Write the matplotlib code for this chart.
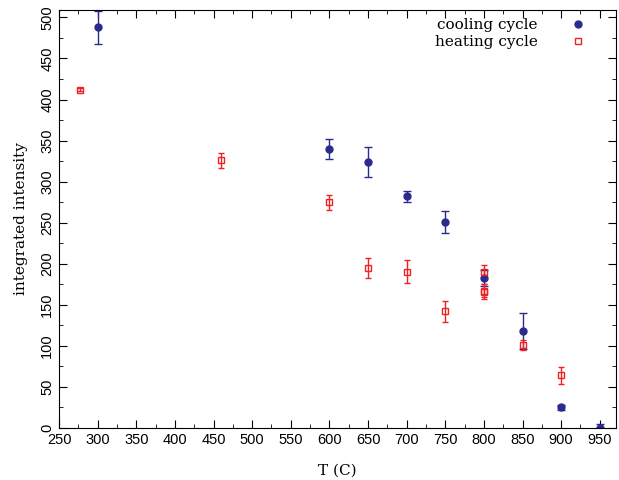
import matplotlib
matplotlib.use("Agg")
from matplotlib import pyplot as plt
from matplotlib.lines import Line2D
from matplotlib.ticker import MultipleLocator

# cooling cycle
cool_t = [300, 600, 650, 700, 750, 800, 850, 900, 950]
cool_i = [488, 340, 324, 282, 251, 183, 118, 25, 0]
cool_err = [20, 12, 18, 7, 13, 10, 22, 3, 5]

# heating cycle
heat_t = [277, 460, 600, 650, 700, 750, 800, 800, 800, 850, 900]
heat_i = [412, 326, 275, 195, 190, 142, 190, 167, 166, 101, 64]
heat_err = [2, 9, 9, 12, 14, 13, 8, 8, 9, 6, 10]

blue = '#2b2b8c'
red = '#ee2222'

fig = plt.figure(figsize=(6.19, 4.8), dpi=100)
ax = fig.add_axes([59 / 619, 52 / 480, 557 / 619, 418 / 480])

ax.errorbar(cool_t, cool_i, yerr=cool_err, fmt='o', color=blue, ms=5,
            capsize=3, elinewidth=1)
ax.errorbar(heat_t, heat_i, yerr=heat_err, fmt='s', color=red, mfc='none',
            ms=5, mew=1, capsize=2, elinewidth=1)

ax.set_xlim(250, 971)
ax.set_ylim(0, 509)
ax.xaxis.set_major_locator(MultipleLocator(50))
ax.xaxis.set_minor_locator(MultipleLocator(25))
ax.yaxis.set_major_locator(MultipleLocator(50))
ax.yaxis.set_minor_locator(MultipleLocator(25))
ax.tick_params(which='both', direction='in', top=True, right=True)
ax.tick_params(which='major', length=6)
ax.tick_params(which='minor', length=3)
for lab in ax.get_xticklabels() + ax.get_yticklabels():
    lab.set_family('Liberation Sans')
    lab.set_fontsize(10.5)
plt.setp(ax.get_yticklabels(), rotation=90, va='center')

ax.set_xlabel('T (C)', family='DejaVu Serif', fontsize=11, labelpad=12)
ax.set_ylabel('integrated intensity', family='DejaVu Serif', fontsize=11, labelpad=9)

handles = [
    Line2D([], [], ls='none', marker='o', color=blue, ms=5),
    Line2D([], [], ls='none', marker='s', color=red, mfc='none', ms=5, mew=1),
]
leg = ax.legend(handles, ['cooling cycle', 'heating cycle'], loc='upper right',
                bbox_to_anchor=(1 - 15 / 557, 1 + 7 / 418),
                frameon=False, markerfirst=False,
                prop={'family': 'DejaVu Serif', 'size': 11},
                handlelength=1, handletextpad=2.15, borderaxespad=0.6,
                borderpad=0.4, labelspacing=0.2)
for t in leg.get_texts():
    t.set_ha('right')

fig.savefig('out.png', dpi=100)
